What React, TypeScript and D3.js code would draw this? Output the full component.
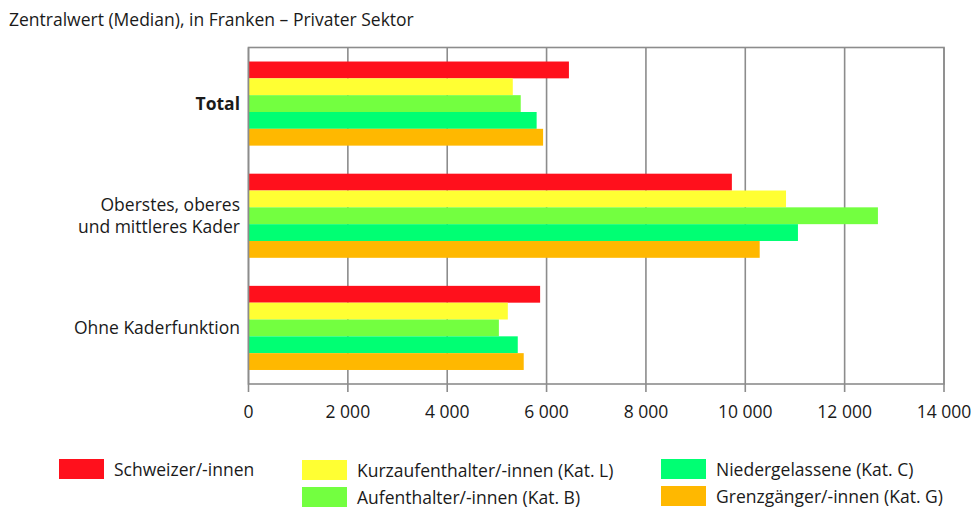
import React, { useEffect, useRef } from 'react';
import * as d3 from 'd3';

const categories = ['Total', 'Oberstes, oberes\nund mittleres Kader', 'Ohne Kaderfunktion'];
const seriesNames = [
  'Schweizer/-innen',
  'Kurzaufenthalter/-innen (Kat. L)',
  'Aufenthalter/-innen (Kat. B)',
  'Niedergelassene (Kat. C)',
  'Grenzgänger/-innen (Kat. G)',
];
const schweizer = [6450, 9730, 5870];
const kurzaufenthalter = [5320, 10820, 5220];
const aufenthalter = [5480, 12670, 5040];
const niedergelassene = [5800, 11060, 5420];
const grenzgaenger = [5930, 10290, 5540];
const xTicks = [0, 2000, 4000, 6000, 8000, 10000, 12000, 14000];
const colors = ['#ff101c', '#ffff33', '#73ff40', '#00ff73', '#ffb800'];

const W = 972;
const H = 508;
const FONT = '"Open Sans", sans-serif';
const FS = '17.5px';

export default function App() {
  const svgRef = useRef<SVGSVGElement>(null);

  useEffect(() => {
    if (!svgRef.current) return;
    d3.select(svgRef.current).selectAll('*').remove();

    const svg = d3.select(svgRef.current).attr('width', W).attr('height', H);
    const left = 248.5;
    const right = 944;
    const top = 47.5;
    const bottom = 384;

    const values = [schweizer, kurzaufenthalter, aufenthalter, niedergelassene, grenzgaenger];

    const x = d3.scaleLinear().domain([0, 14000]).range([left, right]);
    const y = d3
      .scaleBand()
      .domain(categories)
      .range([top, bottom])
      .paddingInner(0.25)
      .paddingOuter(0.125);
    const ySub = d3
      .scaleBand<number>()
      .domain(d3.range(seriesNames.length))
      .range([0, y.bandwidth()]);

    // title
    svg
      .append('text')
      .attr('x', 9)
      .attr('y', 26)
      .style('font-family', FONT)
      .style('font-size', FS)
      .attr('fill', '#1a1a1a')
      .text('Zentralwert (Median), in Franken – Privater Sektor');

    // grid lines
    svg
      .append('g')
      .selectAll('line')
      .data(xTicks)
      .enter()
      .append('line')
      .attr('x1', (d) => x(d))
      .attr('x2', (d) => x(d))
      .attr('y1', top)
      .attr('y2', bottom + 8)
      .attr('stroke', '#8c8c8c')
      .attr('stroke-width', 1.6);

    // bars
    categories.forEach((cat, ci) => {
      const g = svg.append('g').attr('transform', `translate(0,${y(cat)})`);
      g.selectAll('rect')
        .data(values.map((v) => v[ci]))
        .enter()
        .append('rect')
        .attr('x', x(0))
        .attr('y', (_, i) => ySub(i) || 0)
        .attr('width', (d) => x(d) - x(0))
        .attr('height', ySub.bandwidth())
        .attr('fill', (_, i) => colors[i]);
    });

    // frame
    svg
      .append('rect')
      .attr('x', left)
      .attr('y', top)
      .attr('width', right - left)
      .attr('height', bottom - top)
      .attr('fill', 'none')
      .attr('stroke', '#8c8c8c')
      .attr('stroke-width', 1.6);

    // x tick labels
    svg
      .append('g')
      .selectAll('text')
      .data(xTicks)
      .enter()
      .append('text')
      .attr('x', (d) => x(d))
      .attr('y', 418)
      .attr('text-anchor', 'middle')
      .style('font-family', FONT)
      .style('font-size', FS)
      .attr('fill', '#1a1a1a')
      .text((d) => d3.format(',')(d).replace(/,/g, ' '));

    // category labels, one text per line
    categories.forEach((cat, ci) => {
      const lines = cat.split('\n');
      const cy = (y(cat) || 0) + y.bandwidth() / 2;
      lines.forEach((line, li) => {
        svg
          .append('text')
          .attr('text-anchor', 'end')
          .attr('x', 240)
          .attr('y', cy + 6 + (li - (lines.length - 1) / 2) * 22)
          .style('font-family', FONT)
          .style('font-size', FS)
          .style('font-weight', ci === 0 ? 'bold' : 'normal')
          .attr('fill', '#1a1a1a')
          .text(line);
      });
    });

    // legend
    const legendPos = [
      { x: 59, y: 459 },
      { x: 302, y: 460 },
      { x: 302, y: 487 },
      { x: 661, y: 459 },
      { x: 661, y: 486 },
    ];
    const lg = svg.append('g');
    seriesNames.forEach((name, i) => {
      const p = legendPos[i];
      lg.append('rect')
        .attr('x', p.x)
        .attr('y', p.y)
        .attr('width', 45)
        .attr('height', 20)
        .attr('fill', colors[i]);
      lg.append('text')
        .attr('x', p.x + 55)
        .attr('y', p.y + 17)
        .style('font-family', FONT)
        .style('font-size', FS)
        .attr('fill', '#1a1a1a')
        .text(name);
    });
  }, []);

  return (
    <div style={{ position: 'absolute', left: 0, top: 0, width: W, height: H, background: '#fff' }}>
      <svg ref={svgRef} style={{ display: 'block' }} />
    </div>
  );
}
